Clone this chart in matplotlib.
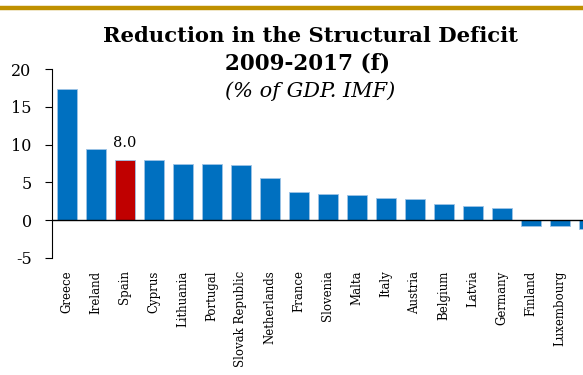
import numpy as np
import matplotlib.pyplot as plt
from matplotlib.lines import Line2D

# Structural deficit reduction 2009-2017 (f), % of GDP, IMF
countries = ['Greece', 'Ireland', 'Spain', 'Cyprus', 'Lithuania', 'Portugal',
             'Slovak Republic', 'Netherlands', 'France', 'Slovenia', 'Malta',
             'Italy', 'Austria', 'Belgium', 'Latvia', 'Germany', 'Finland',
             'Luxembourg', '']
reduction = [17.4, 9.4, 8.0, 7.9, 7.45, 7.45, 7.3, 5.6, 3.7, 3.4, 3.35,
             2.9, 2.8, 2.2, 1.9, 1.6, -0.75, -0.75, -1.2]
highlight = 'Spain'

plt.rcParams['font.family'] = ['DejaVu Serif']
plt.rcParams['axes.unicode_minus'] = False  # "-5" with a plain hyphen

fig = plt.figure(figsize=(5.83, 3.75), dpi=100)
ax = fig.add_axes([0.090, 0.312, 0.945, 0.504])

x = np.arange(len(countries))
colors = ['#C00000' if c == highlight else '#0070C0' for c in countries]
ax.bar(x, reduction, width=0.67, color=colors, edgecolor='#9DC3E6',
       linewidth=0.6, zorder=2)
ax.axhline(0, color='black', linewidth=1.0, zorder=3)

# value label over the highlighted country
i = countries.index(highlight)
ax.text(x[i], reduction[i] + 1.3, f'{reduction[i]:.1f}', ha='center',
        va='bottom', fontsize=10.5)

ax.set_xlim(-0.5, len(countries) - 0.5)
ax.set_ylim(-5, 20)
ax.set_yticks([-5, 0, 5, 10, 15, 20])
ax.tick_params(axis='y', labelsize=11.5, length=5, width=0.8, pad=10)
ax.set_xticks(x)
ax.set_xticklabels(countries, rotation=90, fontsize=8.5)
ax.tick_params(axis='x', length=0, pad=9)
for s in ['top', 'right', 'bottom']:
    ax.spines[s].set_visible(False)
ax.spines['left'].set_linewidth(0.8)

fig.text(0.532, 0.889, 'Reduction in the Structural Deficit', ha='center',
         va='baseline', fontsize=15.2, fontweight='bold')
fig.text(0.528, 0.815, '2009-2017 (f)', ha='center', va='baseline',
         fontsize=15.5, fontweight='bold')
fig.text(0.532, 0.742, '(% of GDP. IMF)', ha='center', va='baseline',
         fontsize=15, style='italic')

# gold rule across the top
fig.add_artist(Line2D([0, 1], [0.978, 0.978], transform=fig.transFigure,
                      color='#BF9000', linewidth=3.2))

fig.savefig('out.png', dpi=100)
